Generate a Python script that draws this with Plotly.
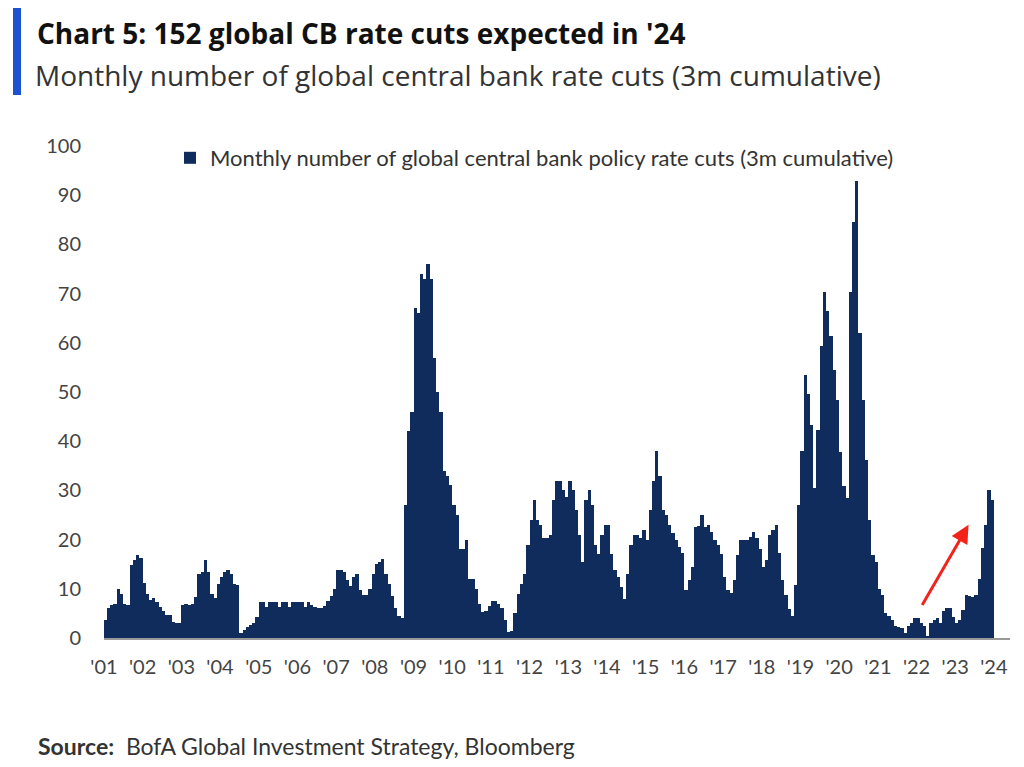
import pandas as pd
import plotly.graph_objects as go

# monthly number of global CB rate cuts, 3m cumulative
cuts_2001 = [3.7, 6, 6.7, 7, 10, 9, 7, 6.7, 14.8, 15.8, 16.9, 16.2]
cuts_2002 = [11.1, 9, 7.7, 8.1, 7.4, 6.4, 5.4, 4.7, 4.7, 3.3, 3, 3]
cuts_2003 = [6.7, 7, 6.7, 7, 8.4, 13.1, 13.5, 15.8, 13.5, 9, 8.1, 11]
cuts_2004 = [12.5, 13.5, 13.8, 13.1, 11, 10.8, 1, 1.6, 2.3, 2.7, 3, 4.3]
cuts_2005 = [7.3, 7.3, 6.4, 7.3, 7.3, 7.3, 6.4, 7.3, 7.3, 6.4, 7.3, 7.3]
cuts_2006 = [7.3, 7.3, 6.4, 7.3, 6.7, 6.3, 6.1, 6.1, 6.5, 7.5, 8.5, 10]
cuts_2007 = [13.8, 13.8, 13.5, 11.8, 10.5, 12.5, 13, 9.8, 8.7, 8.7, 10, 13]
cuts_2008 = [15, 15.5, 16, 13, 11, 8.5, 6, 4.5, 4, 27, 42, 46]
cuts_2009 = [67, 66, 74, 73, 76, 73, 57, 50, 46, 34, 33, 31]
cuts_2010 = [27, 25, 18, 18, 20, 12, 12, 10, 7, 5.3, 5.5, 6.5]
cuts_2011 = [7.5, 7.6, 7, 6, 3.6, 1.2, 1.5, 5, 9, 11, 13, 19]
cuts_2012 = [24, 28, 24, 23, 20.3, 20.3, 21, 28, 32, 32, 30, 28.7]
cuts_2013 = [32, 30, 26, 21, 15.5, 28, 30, 27, 19, 17, 21, 23]
cuts_2014 = [23, 17, 13.8, 12.5, 10.4, 8, 13, 19, 21, 21, 20.3, 22]
cuts_2015 = [20, 26, 32, 38, 33, 26, 25, 23, 21.3, 20, 18.5, 17.2]
cuts_2016 = [9.8, 11.8, 14.5, 22.6, 22.8, 25, 22.6, 23, 21.6, 20, 19, 17]
cuts_2017 = [12.5, 9.8, 9.1, 11.8, 16.9, 20, 20, 20, 20.6, 21.6, 20.3, 18]
cuts_2018 = [14.5, 15.8, 21, 22, 23, 17.2, 11.8, 8.7, 5.9, 4.5, 10.8, 27]
cuts_2019 = [38, 53.5, 49.5, 43.3, 30.4, 42.3, 59.4, 70.4, 66.4, 61.3, 54.5, 48.4]
cuts_2020 = [37.9, 30.8, 28.4, 70.4, 84.6, 92.8, 62, 48.4, 36.2, 24, 16.9, 15.5]
cuts_2021 = [10, 8.7, 5.1, 4.5, 3.7, 2.4, 2.2, 2, 1, 2.4, 3, 4]
cuts_2022 = [4, 3, 2.4, 0.5, 3, 3.7, 4, 3, 5.4, 6, 6, 4.3]
cuts_2023 = [3, 3.7, 5.7, 8.7, 8.6, 8.4, 8.7, 12, 18.2, 23, 30, 28]

years = [cuts_2001, cuts_2002, cuts_2003, cuts_2004, cuts_2005, cuts_2006,
         cuts_2007, cuts_2008, cuts_2009, cuts_2010, cuts_2011, cuts_2012,
         cuts_2013, cuts_2014, cuts_2015, cuts_2016, cuts_2017, cuts_2018,
         cuts_2019, cuts_2020, cuts_2021, cuts_2022, cuts_2023]
values = [v for year in years for v in year]
months = pd.date_range("2001-01-01", periods=len(values), freq="MS")

# red arrow (start, end) in data terms
arrow_from = ("2022-02-15", 6.4)
arrow_to = ("2023-05-07", 23)

NAVY = "#102c5c"

# page body adds 8px, so the figure sits 8px right/down on screen
OFF = 8
W, H = 1024, 767
L, R, T, B = 104 - OFF, 22, 146 - OFF, 137
pw, ph = W - L - R, H - T - B


def px(x):
    # screen pixel -> paper x
    return (x - OFF - L) / pw


def py(y):
    # screen pixel -> paper y
    return (H - B - (y - OFF)) / ph


fig = go.Figure()
fig.add_trace(go.Bar(
    x=months, y=values, xperiod="M1", xperiodalignment="middle",
    width=31 * 86400000, marker_color=NAVY, marker_line_width=0,
    name="Monthly number of global central bank policy rate cuts (3m cumulative)",
))

fig.add_annotation(x=arrow_to[0], y=arrow_to[1], ax=arrow_from[0], ay=arrow_from[1],
                   xref="x", yref="y", axref="x", ayref="y", text="",
                   showarrow=True, arrowhead=2, arrowsize=1.2, arrowwidth=3,
                   arrowcolor="#f2231b")

fig.add_annotation(x=px(35), y=py(33), xref="paper", yref="paper", xanchor="left",
                   yanchor="middle", showarrow=False,
                   text="<b>Chart 5: 152 global CB rate cuts expected in '24</b>",
                   font=dict(family="Open Sans", size=28, color="#111"))
fig.add_annotation(x=px(33), y=py(75), xref="paper", yref="paper", xanchor="left",
                   yanchor="middle", showarrow=False,
                   text="Monthly number of global central bank rate cuts (3m cumulative)",
                   font=dict(family="Open Sans", size=28, color="#333"))
fig.add_annotation(x=px(36), y=py(746), xref="paper", yref="paper", xanchor="left",
                   yanchor="middle", showarrow=False,
                   text="<b>Source:</b>  BofA Global Investment Strategy, Bloomberg",
                   font=dict(family="Lato", size=23, color="#333"))
fig.add_shape(type="rect", xref="paper", yref="paper", x0=px(13), x1=px(21),
              y0=py(95), y1=py(5), fillcolor="#1a52d0", line_width=0)

fig.update_layout(
    width=W, height=H, margin=dict(l=L, r=R, t=T, b=B),
    paper_bgcolor="white", plot_bgcolor="white", bargap=0,
    font=dict(family="Lato", size=20, color="#444"),
    showlegend=True,
    legend=dict(orientation="h", x=px(170), y=py(137), xanchor="left", yanchor="top",
                font=dict(size=22, color="#333"), bgcolor="rgba(0,0,0,0)"),
    xaxis=dict(type="date", range=["2001-01-01", "2024-06-01"], tick0="2001-01-01",
               dtick="M12", tickformat="'%y", showgrid=False, showline=True,
               linecolor="#999", linewidth=1.5, ticks="outside", ticklen=10,
               tickcolor="rgba(0,0,0,0)", zeroline=False),
    yaxis=dict(range=[0, 100], dtick=10, showgrid=False, zeroline=False,
               ticks="outside", ticklen=18, tickcolor="rgba(0,0,0,0)"),
)

fig.write_html("out.html")
